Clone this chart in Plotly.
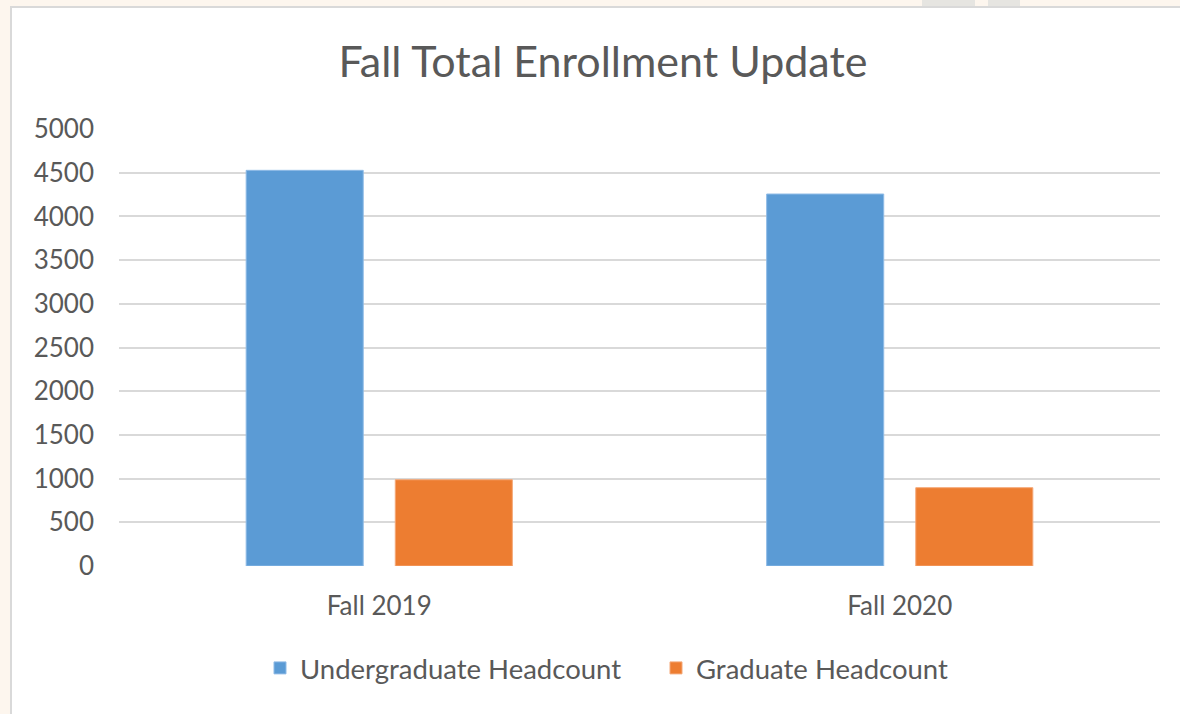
import plotly.graph_objects as go

categories = ["Fall 2019", "Fall 2020"]
undergrad = [4527, 4256]
graduate = [987, 896]
series_names = ["Undergraduate Headcount", "Graduate Headcount"]
y_ticks = [0, 500, 1000, 1500, 2000, 2500, 3000, 3500, 4000, 4500, 5000]

FONT = "Lato"
GRAY = "#595959"
BLUE = "#5b9bd5"
ORANGE = "#ed7d31"

fig = go.Figure()
fig.add_trace(go.Bar(x=categories, y=undergrad, name=series_names[0],
                     marker=dict(color=BLUE, line=dict(color="#8fbbe6", width=1))))
fig.add_trace(go.Bar(x=categories, y=graduate, name=series_names[1],
                     marker=dict(color=ORANGE, line=dict(color="#f4a878", width=1))))

W, H = 1180, 714
L, R, T, B = 119, 20, 129, 148
PW, PH = W - L - R, H - T - B

def px_x(x):
    return (x - L) / PW

def px_y(y):
    return (H - B - y) / PH

fig.update_layout(
    width=W, height=H,
    margin=dict(l=L, r=R, t=T, b=B, pad=0),
    paper_bgcolor="#fdf6ee",
    plot_bgcolor="white",
    barmode="group",
    bargap=0.427,
    bargroupgap=0.215,
    font=dict(family=FONT, color=GRAY, size=26),
    title=dict(text="Fall Total Enrollment Update", x=603 / W, xref="container",
               xanchor="center", y=1 - 62 / H, yref="container", yanchor="middle",
               font=dict(family=FONT, size=43, color=GRAY)),
    legend=dict(orientation="h", x=656 / W, xref="container", xanchor="center",
                y=1 - 668 / H, yref="container", yanchor="middle",
                font=dict(family=FONT, size=27.5, color=GRAY),
                entrywidth=351, entrywidthmode="pixels",
                traceorder="normal", bgcolor="rgba(0,0,0,0)"),
    showlegend=True,
)

# white chart area with gray border
fig.add_shape(type="rect", xref="paper", yref="paper",
              x0=px_x(11), x1=px_x(W + 5), y0=px_y(H + 5), y1=px_y(7),
              fillcolor="white", line=dict(color="#d9d9d9", width=2), layer="below")
# faint watermark fragments at top edge
for xa, xb in [(922, 975), (988, 1020)]:
    fig.add_shape(type="rect", xref="paper", yref="paper",
                  x0=px_x(xa), x1=px_x(xb), y0=px_y(6), y1=px_y(-2),
                  fillcolor="#e6e5e1", line=dict(width=0), layer="below")

fig.update_yaxes(range=[0, 5000], tickvals=y_ticks, showgrid=True, gridcolor="#d9d9d9",
                 gridwidth=2, zeroline=False, showline=False, ticks="",
                 ticklabelstandoff=24, tickfont=dict(size=26, color=GRAY, family=FONT))
fig.update_xaxes(showgrid=False, showline=False, zeroline=False, ticks="",
                 ticklabelstandoff=22, tickfont=dict(size=26, color=GRAY, family=FONT))

fig.write_html("out.html", config={"displayModeBar": False},
               post_script="document.body.style.margin='0';")
